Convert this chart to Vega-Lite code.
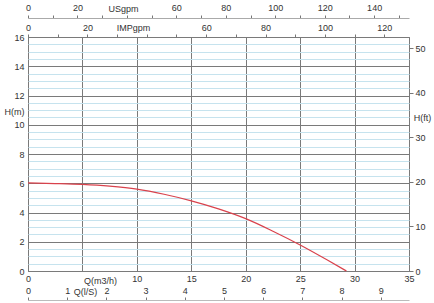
{
  "$schema": "https://vega.github.io/schema/vega-lite/v6.json",
  "width": 381,
  "height": 234,
  "autosize": {"type": "none"},
  "padding": {"left": 28, "top": 37, "right": 25, "bottom": 32},
  "background": "white",
  "config": {
    "view": {"stroke": "#6e6e6e", "strokeWidth": 1},
    "font": "Liberation Sans",
    "axis": {
      "labelFont": "Liberation Sans",
      "titleFont": "Liberation Sans",
      "labelFontSize": 9,
      "titleFontSize": 9,
      "titleFontWeight": "normal",
      "labelColor": "#333",
      "titleColor": "#333",
      "labelFlush": false,
      "labelOverlap": false,
      "domain": false,
      "ticks": false,
      "grid": false
    }
  },
  "resolve": {"scale": {"x": "independent", "y": "independent"}},
  "layer": [
    {
      "data": {
        "values": [
          {"Q": 0, "H": 6.02},
          {"Q": 2.5, "H": 5.98},
          {"Q": 5, "H": 5.92},
          {"Q": 7.5, "H": 5.8},
          {"Q": 10, "H": 5.6},
          {"Q": 12.5, "H": 5.25},
          {"Q": 15, "H": 4.8},
          {"Q": 17.5, "H": 4.25},
          {"Q": 20, "H": 3.58},
          {"Q": 22.5, "H": 2.72},
          {"Q": 25, "H": 1.78},
          {"Q": 27.5, "H": 0.75},
          {"Q": 29.25, "H": 0}
        ]
      },
      "mark": {"type": "line", "color": "#d9424c", "strokeWidth": 1.2, "interpolate": "monotone"},
      "encoding": {
        "x": {
          "field": "Q",
          "type": "quantitative",
          "scale": {"domain": [0, 35], "nice": false},
          "axis": {
            "orient": "bottom",
            "values": [0, 5, 10, 15, 20, 25, 30, 35],
            "grid": true,
            "gridColor": "#7a7a7a",
            "gridWidth": 1,
            "labelPadding": 3,
            "labelExpr": "datum.value == 5 ? '' : datum.label",
            "title": "Q(m3/h)",
            "titleX": 72,
            "titleY": 9,
            "titleAlign": "center",
            "titleBaseline": "middle"
          }
        },
        "y": {
          "field": "H",
          "type": "quantitative",
          "scale": {"domain": [0, 16], "nice": false},
          "axis": {
            "orient": "left",
            "values": [0, 0.5, 1, 1.5, 2, 2.5, 3, 3.5, 4, 4.5, 5, 5.5, 6, 6.5, 7, 7.5, 8, 8.5, 9, 9.5, 10, 10.5, 11, 11.5, 12, 12.5, 13, 13.5, 14, 14.5, 15, 15.5, 16],
            "grid": true,
            "gridColor": {"condition": {"test": "datum.value % 2 === 0", "value": "#7a7a7a"}, "value": "#c6e3ee"},
            "labelExpr": "datum.value % 2 === 0 ? format(datum.value, 'd') : ''",
            "labelPadding": 4,
            "title": "H(m)",
            "titleAngle": 0,
            "titleX": -14,
            "titleY": 74,
            "titleAlign": "center",
            "titleBaseline": "middle"
          }
        }
      }
    },
    {
      "data": {"values": [{"usgpm": 0}, {"usgpm": 154.1}]},
      "mark": {"type": "point", "opacity": 0},
      "encoding": {
        "x": {
          "field": "usgpm",
          "type": "quantitative",
          "scale": {"domain": [0, 154.1], "nice": false},
          "axis": {
            "orient": "top",
            "offset": 19,
            "domain": true,
            "domainColor": "#aaaaaa",
            "ticks": true,
            "tickSize": 3,
            "tickColor": "#777",
            "values": [0, 10, 20, 30, 40, 50, 60, 70, 80, 90, 100, 110, 120, 130, 140, 150],
            "labelExpr": "datum.value % 20 === 0 && datum.value !== 40 ? datum.label : ''",
            "labelPadding": 3,
            "title": "USgpm",
            "titleX": 95,
            "titleY": -10,
            "titleAlign": "center",
            "titleBaseline": "middle"
          }
        }
      }
    },
    {
      "data": {"values": [{"impgpm": 0}, {"impgpm": 128.31}]},
      "mark": {"type": "point", "opacity": 0},
      "encoding": {
        "x": {
          "field": "impgpm",
          "type": "quantitative",
          "scale": {"domain": [0, 128.31], "nice": false},
          "axis": {
            "orient": "top",
            "offset": 0,
            "ticks": true,
            "tickSize": 3,
            "tickColor": "#777",
            "values": [0, 10, 20, 30, 40, 50, 60, 70, 80, 90, 100, 110, 120],
            "labelExpr": "datum.value % 20 === 0 && datum.value !== 40 ? datum.label : ''",
            "labelPadding": 2,
            "title": "IMPgpm",
            "titleX": 105,
            "titleY": -10,
            "titleAlign": "center",
            "titleBaseline": "middle"
          }
        }
      }
    },
    {
      "data": {"values": [{"ls": 0}, {"ls": 9.7222}]},
      "mark": {"type": "point", "opacity": 0},
      "encoding": {
        "x": {
          "field": "ls",
          "type": "quantitative",
          "scale": {"domain": [0, 9.7222], "nice": false},
          "axis": {
            "orient": "top",
            "offset": -263,
            "domain": true,
            "domainColor": "#bbbbbb",
            "ticks": true,
            "tickSize": 3,
            "tickColor": "#777",
            "values": [0, 1, 2, 3, 4, 5, 6, 7, 8, 9],
            "labelPadding": 2,
            "title": "Q(l/S)",
            "titleX": 57,
            "titleY": -9,
            "titleAlign": "center",
            "titleBaseline": "middle"
          }
        }
      }
    },
    {
      "data": {"values": [{"ft": 0}, {"ft": 52.49}]},
      "mark": {"type": "point", "opacity": 0},
      "encoding": {
        "y": {
          "field": "ft",
          "type": "quantitative",
          "scale": {"domain": [0, 52.49], "nice": false},
          "axis": {
            "orient": "right",
            "ticks": true,
            "tickSize": 4,
            "tickColor": "#777",
            "values": [0, 10, 20, 30, 40, 50],
            "labelPadding": 2,
            "title": "H(ft)",
            "titleAngle": 0,
            "titleX": 13,
            "titleY": 80,
            "titleAlign": "center",
            "titleBaseline": "middle"
          }
        }
      }
    }
  ]
}
